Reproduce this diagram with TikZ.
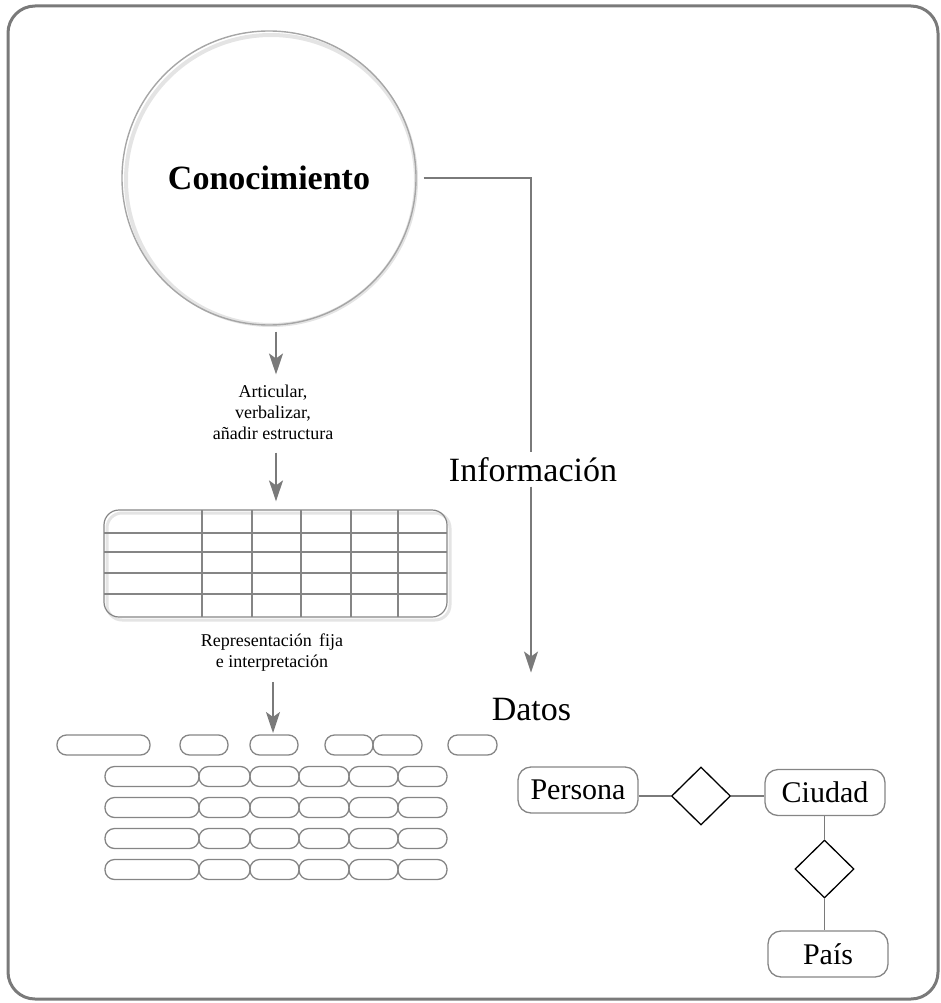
\documentclass[tikz,border=0pt]{standalone}
\usepackage{fontspec}
\setmainfont{Liberation Serif}
\usetikzlibrary{arrows.meta,shapes.geometric}
\definecolor{framegray}{HTML}{7A7A7A}
\definecolor{linegray}{HTML}{7A7A7A}
\definecolor{ringgray}{HTML}{A6A6A6}
\definecolor{shadegray}{HTML}{E4E4E4}
\definecolor{boxgray}{HTML}{858585}
\begin{document}
\begin{tikzpicture}[x=1pt,y=-1pt,
  frame/.style={draw=framegray, line width=3pt, rounded corners=27pt},
  knowledge/.style={circle, draw=ringgray, line width=1.4pt, minimum size=294pt,
    inner sep=0pt, font=\bfseries\fontsize{34}{40}\selectfont},
  bigtext/.style={inner sep=5pt, font=\fontsize{34}{40}\selectfont},
  smalltext/.style={inner sep=0pt, align=center, font=\fontsize{18}{21}\selectfont},
  conn/.style={draw=linegray, line width=1.8pt},
  arr/.style={conn, -{Stealth[length=21pt,width=14pt,inset=5pt]}},
  grid/.style={draw=boxgray, line width=1.2pt},
  pill/.style={draw=boxgray, line width=1.3pt, rectangle, rounded corners=9.5pt,
    minimum height=20pt, inner sep=0pt, outer sep=0pt},
  entity/.style={draw=boxgray, line width=1.3pt, rectangle, rounded corners=13pt,
    minimum width=120pt, minimum height=46pt, inner sep=0pt,
    font=\fontsize{30}{36}\selectfont},
  relation/.style={draw=black, line width=1.3pt, diamond, minimum width=59pt,
    minimum height=58pt, inner sep=0pt},
  link/.style={draw=linegray, line width=1.3pt}]

\useasboundingbox (0,0) rectangle (941,1003);

% outer frame
\draw[frame] (8,6) rectangle (938,999);

% knowledge circle with soft halo
\draw[shadegray, line width=4pt] (271,180) circle (145);
\node[knowledge] (know) at (269,178) {Conocimiento};

% helper abscissas for the vertical arrows
\coordinate (ax) at (276,0);
\coordinate (bx) at (273,0);
\coordinate (corner) at (531,178);

% left branch: knowledge -> structure -> table
\node[smalltext] (lab1) at (273,412) {Articular,\\verbalizar,\\añadir estructura};
\draw[arr, shorten <=6pt, shorten >=10pt] (know.south -| ax) -- (lab1.north -| ax);

% table
\draw[shadegray, line width=3pt, rounded corners=15pt] (107,513) rectangle (450,620);
\node[grid, rectangle, rounded corners=15pt, minimum width=343pt, minimum height=107pt,
  inner sep=0pt] (tab) at (275.5,563.5) {};
\foreach \yy in {533,552,573,594} \draw[grid] (104,\yy) -- (447,\yy);
\foreach \xx in {202,252,301,351,398} \draw[grid] (\xx,510) -- (\xx,617);

\draw[arr, shorten <=13pt, shorten >=8pt] (lab1.south -| ax) -- (tab.north -| ax);

\node[smalltext] (lab2) at (272,653) {Representación\, fija\\e interpretación};

% record pills
\foreach \cx/\w [count=\i] in {103.5/93,204/48,274/48,349/48,397.5/49,472.5/49}
  \node[pill, minimum width=\w pt] (p\i) at (\cx,745) {};
\foreach \cy in {776.5,807.5,838.5,869.5}
  \foreach \cx/\w in {152/94,224.5/51,274.5/49,324/50,373.5/49,422.5/49}
    \node[pill, minimum width=\w pt] at (\cx,\cy) {};

\draw[arr, shorten <=10pt, shorten >=2pt] (lab2.south -| bx) -- (p3.north -| bx);

% right branch: knowledge -> information -> data
\node[bigtext, anchor=base] (info) at (533,481) {Información};
\node[bigtext, anchor=base] (datos) at (531.5,720) {Datos};
\draw[conn] ([xshift=7pt]know.east |- corner) -- (corner) -- (corner |- info.north);
\draw[arr, shorten >=20pt] (corner |- info.south) -- (corner |- datos.north);

% entity-relationship sketch
\node[entity] (persona) at (578,790) {Persona};
\node[relation] (r1) at (701,796) {};
\node[entity] (ciudad) at (825,792.5) {Ciudad};
\node[relation] (r2) at (824.5,869) {};
\node[entity] (pais) at (828,954) {País};

\draw[link] (persona.east |- r1) -- (r1.west);
\draw[link] (r1.east) -- (r1.east -| ciudad.west);
\draw[link] (ciudad.south -| r2) -- (r2.north);
\draw[link] (r2.south) -- (r2.south |- pais.north);

\end{tikzpicture}
\end{document}
